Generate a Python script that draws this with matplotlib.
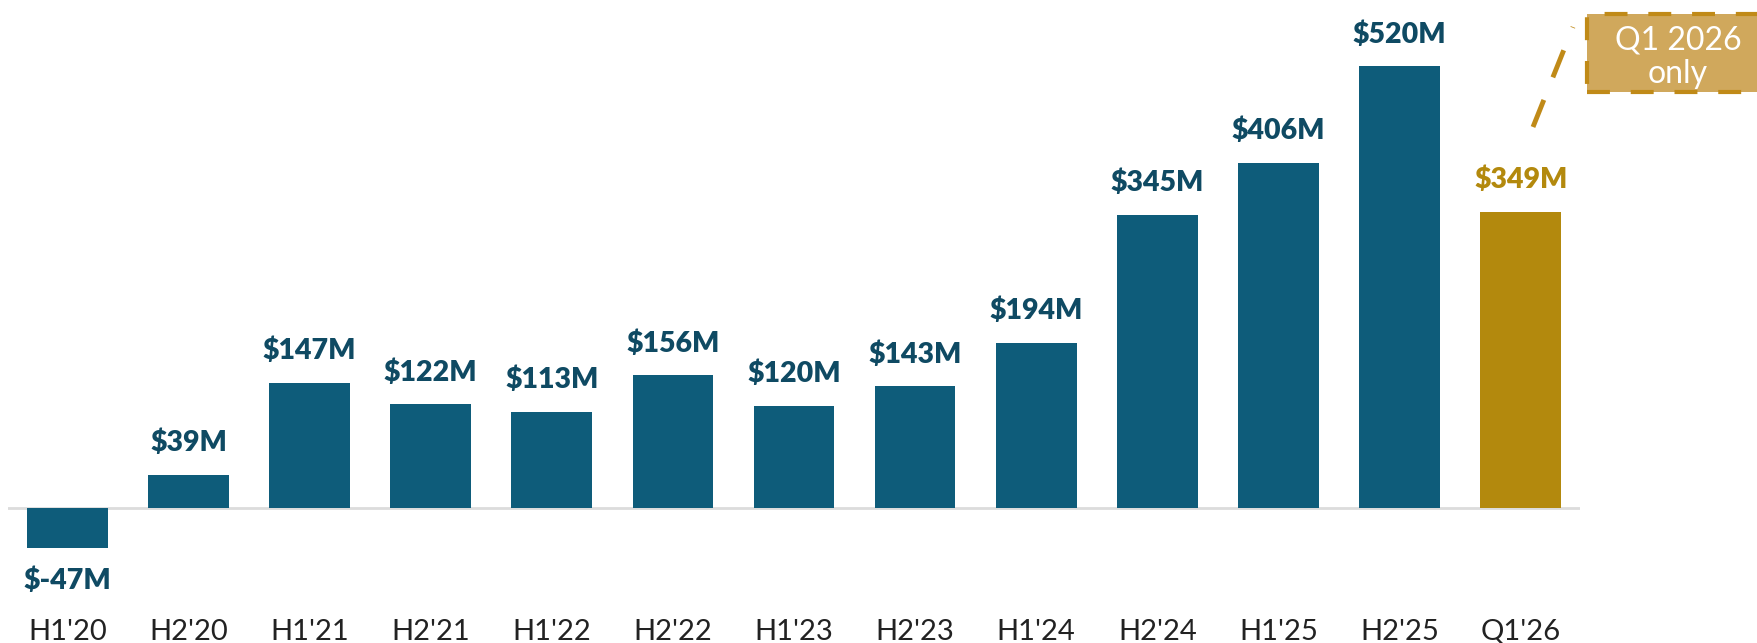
import matplotlib.pyplot as plt
from matplotlib.patches import Rectangle
from matplotlib.lines import Line2D

# Values ($M)
periods = ["H1'20", "H2'20", "H1'21", "H2'21", "H1'22", "H2'22", "H1'23",
           "H2'23", "H1'24", "H2'24", "H1'25", "H2'25", "Q1'26"]
values = [-47, 39, 147, 122, 113, 156, 120, 143, 194, 345, 406, 520, 349]

teal = '#0e5c7a'
teal_text = '#0f4a63'
gold = '#b3890d'

colors = [teal] * (len(values) - 1) + [gold]
label_colors = [teal_text] * (len(values) - 1) + [gold]

W, H = 1757, 643
fig = plt.figure(figsize=(W / 100, H / 100), dpi=100)
ax = fig.add_axes([8 / W, 41.6 / H, 1572 / W, 601.4 / H])

x = range(len(values))
bars = ax.bar(x, values, width=0.667, color=colors, zorder=2)
ax.axhline(0, color='#dcdcdc', lw=2, zorder=1)

ax.set_xlim(-0.49, len(values) - 0.51)
ax.set_ylim(-110, 598)

for bar, v, c in zip(bars, values, label_colors):
    xc = bar.get_x() + bar.get_width() / 2
    if v >= 0:
        ax.annotate(f'${v}M', xy=(xc, v), xytext=(0, 13.5), textcoords='offset points',
                    ha='center', va='bottom', fontsize=20.5, fontweight='heavy',
                    family='Lato', color=c)
    else:
        ax.annotate(f'${v}M', xy=(xc, v), xytext=(0, -14), textcoords='offset points',
                    ha='center', va='top', fontsize=20.5, fontweight='heavy',
                    family='Lato', color=c)

ax.set_xticks(list(x))
ax.set_xticklabels(periods, fontsize=21, family='Lato', color='#222222')
ax.tick_params(axis='x', length=0, pad=12.5)
ax.set_yticks([])
for s in ax.spines.values():
    s.set_visible(False)

# "Q1 2026 only" callout
box = Rectangle((1587 / W, (H - 92) / H), 200 / W, 78 / H, transform=fig.transFigure,
                facecolor='#d0a85c', edgecolor='#c08a18', lw=3,
                linestyle=(0, (5.5, 5)), clip_on=False)
fig.patches.append(box)
fig.text(1678 / W, (H - 57) / H, 'Q1 2026\nonly', ha='center', va='center',
         fontsize=23, family='Lato', color='white', linespacing=1.15)
fig.lines.append(Line2D([1533 / W, 1573 / W], [(H - 127) / H, (H - 27) / H],
                        transform=fig.transFigure, color='#c08a18', lw=3.5,
                        linestyle=(0, (6, 5))))

fig.savefig('out.png', dpi=100)
